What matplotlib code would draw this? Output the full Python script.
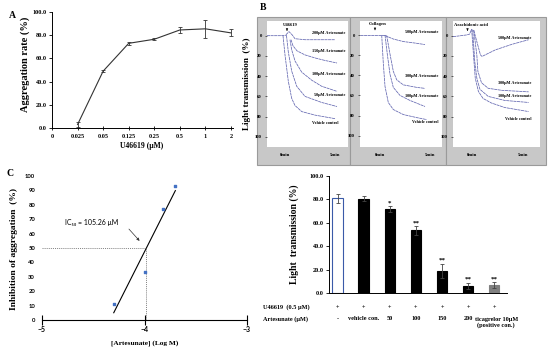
import numpy as np
import matplotlib
matplotlib.use("Agg")
import matplotlib.pyplot as plt
from matplotlib.patches import Rectangle

# ---------------- data ----------------
# Panel A
a_categories = ["0", "0.025", "0.05", "0.125", "0.25", "0.5", "1", "2"]
a_values = [3.0, 49.0, 73.0, 76.5, 84.5, 85.5, 82.0]      # for 0.025 .. 2
a_errors = [2.0, 1.0, 1.5, 1.0, 2.5, 8.0, 3.0]

# Panel B traces (time in min, light transmission %)
b1_t_base = [-1.8, -0.5, 0.2]
b1_y_base = [0.0, 0.0, -0.5]
b1_t_veh = [-0.2, 0.0, 0.33, 0.67, 1.0, 1.67, 3.0, 5.0]
b1_y_veh = [0.0, 19.0, 45.0, 62.0, 69.0, 75.0, 78.5, 82.0]
b1_t_50 = [0.15, 0.33, 0.67, 1.17, 2.0, 3.67, 5.2]
b1_y_50 = [0.0, 16.0, 35.0, 50.0, 60.0, 66.0, 70.0]
b1_t_100 = [0.5, 0.67, 1.0, 1.67, 2.67, 3.67, 5.2]
b1_y_100 = [4.0, 14.0, 25.0, 36.0, 44.0, 50.0, 55.0]
b1_t_150 = [0.6, 0.8, 1.2, 2.0, 3.0, 4.0, 5.2]
b1_y_150 = [4.0, 10.0, 15.0, 19.0, 22.0, 24.5, 27.0]
b1_t_200 = [0.1, 0.4, 0.7, 1.0, 2.0, 3.5, 5.0]
b1_y_200 = [-1.0, -4.0, -1.0, 3.0, 4.0, 4.0, 4.0]

b2_t_base = [-2.0, -0.5, 0.5]
b2_y_base = [0.0, 0.0, 0.0]
b2_t_veh = [0.17, 0.33, 0.5, 0.83, 1.33, 2.33, 3.67, 4.67]
b2_y_veh = [0.0, 28.0, 51.0, 67.0, 74.0, 79.0, 82.0, 84.0]
b2_t_100 = [0.5, 0.73, 1.0, 1.33, 2.0, 3.0, 4.5]
b2_y_100 = [0.0, 19.0, 39.0, 52.0, 60.0, 65.0, 71.0]
b2_t_300 = [0.67, 1.0, 1.33, 1.67, 2.33, 3.67, 4.5]
b2_y_300 = [0.5, 19.0, 36.0, 44.5, 49.5, 52.0, 53.0]
b2_t_500 = [0.5, 1.33, 2.33, 3.5, 4.5]
b2_y_500 = [0.5, 4.0, 6.5, 8.0, 9.5]

b3_t_base = [-1.8, -0.5, -0.2, 0.0]
b3_y_base = [1.0, -0.7, -1.5, -6.5]
b3_t_veh = [0.0, 0.2, 0.35, 0.65, 1.1, 1.9, 3.2, 5.5]
b3_y_veh = [-6.5, 22.0, 42.0, 55.0, 62.0, 66.5, 71.0, 75.0]
b3_t_100 = [0.1, 0.3, 0.5, 0.8, 1.6, 3.2, 5.5]
b3_y_100 = [-6.0, 25.5, 42.0, 53.0, 60.0, 64.0, 66.0]
b3_t_300 = [0.2, 0.5, 0.6, 0.95, 1.6, 2.9, 5.5]
b3_y_300 = [-5.5, 19.0, 35.0, 46.5, 52.0, 54.0, 55.5]
b3_t_500 = [0.2, 0.85, 1.0, 2.3, 3.9, 5.5]
b3_y_500 = [-5.5, 19.0, 20.5, 14.0, 8.5, 4.0]

# Panel C
c_conc_logM = [-4.30, -4.00, -3.824, -3.699]
c_inhibition = [11.0, 33.5, 77.0, 93.0]
c_ic50_label = "IC₅₀ = 105.26 μM"

# Panel D
d_values = [81.0, 80.5, 71.5, 53.5, 19.0, 6.0, 6.5]
d_errors = [4.0, 2.0, 2.5, 3.5, 6.0, 2.5, 2.5]
d_stars = ["", "", "*", "**", "**", "**", "**"]
d_row1 = ["+", "+", "+", "+", "+", "+", "+"]
d_row2 = ["-", "vehicle con.", "50", "100", "150", "200", "ticagrelor 10μM\n(positive con.)"]

# ---------------- figure ----------------
W, H = 550, 349
fig = plt.figure(figsize=(W / 100, H / 100), dpi=100)
fig.patch.set_facecolor("white")
SERIF = "Liberation Serif"
SANS = ["Lato", "DejaVu Sans"]


def rect(l, t, r, b):
    return [l / W, 1 - b / H, (r - l) / W, (b - t) / H]


def P(x, y):
    return x / W, 1 - y / H


# ---------------- Panel A ----------------
ax = fig.add_axes(rect(52, 12, 233, 128))
xa = np.arange(1, len(a_categories))
ax.errorbar(xa, a_values, yerr=a_errors, color="#333333", lw=0.8,
            elinewidth=0.6, capsize=1.5, capthick=0.6)
ax.set_xlim(0, 7.08)
ax.set_ylim(0, 100)
ax.set_xticks(np.arange(len(a_categories)))
ax.set_xticklabels(a_categories)
ax.set_yticks(np.arange(0, 101, 20))
ax.set_yticklabels([f"{v:.1f}" for v in range(0, 101, 20)])
for s in ["top", "right"]:
    ax.spines[s].set_visible(False)
for s in ["left", "bottom"]:
    ax.spines[s].set_linewidth(0.7)
ax.tick_params(axis="x", direction="inout", length=3, width=0.6, pad=3)
ax.tick_params(axis="y", direction="out", length=2, width=0.6, pad=2)
for lab in ax.get_xticklabels() + ax.get_yticklabels():
    lab.set_fontfamily(SERIF)
    lab.set_fontweight("bold")
    lab.set_fontsize(4.5)
fig.text(*P(25, 64), "Aggregation rate (%)", rotation=90, ha="center", va="center",
         fontfamily=SERIF, fontweight="bold", fontsize=7.5)
fig.text(*P(142, 146), "U46619 (μM)", ha="center", va="center",
         fontfamily=SERIF, fontweight="bold", fontsize=5.5)
fig.text(*P(12, 15), "A", ha="center", va="center",
         fontfamily=SERIF, fontweight="bold", fontsize=7)

# ---------------- Panel B ----------------
fig.text(*P(263, 8), "B", ha="center", va="center",
         fontfamily=SERIF, fontweight="bold", fontsize=7)
fig.text(*P(247, 84), "Light transmission  (%)", rotation=90, ha="center", va="center",
         fontfamily=SERIF, fontweight="bold", fontsize=6.6)
for (l, r) in [(257, 350), (350, 446), (446, 546)]:
    fig.patches.append(Rectangle((l / W, 1 - 165 / H), (r - l) / W, (165 - 17) / H,
                                 transform=fig.transFigure, facecolor="#c8c8c8",
                                 edgecolor="#9a9a9a", lw=0.8, zorder=-5))

trace_col = "#6266b0"
b_specs = [
    (rect(267, 21, 348, 147), (-1.8, 6.3), (110, -14.5),
     [(b1_t_base, b1_y_base), (b1_t_200, b1_y_200), (b1_t_150, b1_y_150),
      (b1_t_100, b1_y_100), (b1_t_50, b1_y_50), (b1_t_veh, b1_y_veh)],
     [(6.0, -3, "200μM Artesunate"), (6.0, 15, "150μM Artesunate"),
      (6.0, 38, "100μM Artesunate"), (6.0, 58.5, "50μM Artesunate"),
      (5.3, 86, "Vehicle control")],
     ("U46619", 0.2)),
    (rect(360, 21, 442, 147), (-2.0, 6.2), (111.2, -13.9),
     [(b2_t_base, b2_y_base), (b2_t_500, b2_y_500), (b2_t_300, b2_y_300),
      (b2_t_100, b2_y_100), (b2_t_veh, b2_y_veh)],
     [(5.85, -2.7, "500μM Artesunate"), (5.85, 40.7, "300μM Artesunate"),
      (5.85, 60.6, "100μM Artesunate"), (5.85, 86.7, "Vehicle control")],
     ("Collagen", -0.5)),
    (rect(453, 21, 540, 147), (-1.8, 6.6), (110, -14.5),
     [(b3_t_base, b3_y_base), (b3_t_500, b3_y_500), (b3_t_300, b3_y_300),
      (b3_t_100, b3_y_100), (b3_t_veh, b3_y_veh)],
     [(5.8, 2, "500μM Artesunate"), (5.8, 47, "300μM Artesunate"),
      (5.8, 59.7, "100μM Artesunate"), (5.8, 82, "Vehicle control")],
     ("Arachidonic acid", -0.4)),
]
for r_, xl, yl, curves, labels, (agon, ax_x) in b_specs:
    axb = fig.add_axes(r_)
    axb.set_facecolor("white")
    for sp in axb.spines.values():
        sp.set_visible(False)
    for t, y in curves:
        axb.plot(t, y, color=trace_col, lw=0.55, ls=(0, (4, 0.7)))
    for x, y, txt in labels:
        axb.text(x, y, txt, ha="right", va="center", fontfamily=SERIF,
                 fontweight="bold", fontsize=3.1)
    axb.annotate("", xy=(ax_x, -2), xytext=(ax_x, -8),
                 arrowprops=dict(arrowstyle="-|>", lw=0.4, color="black",
                                 mutation_scale=3))
    axb.text(ax_x + 0.3, -10.5, agon, ha="center", va="center", fontfamily=SERIF,
             fontweight="bold", fontsize=3.3)
    axb.set_xlim(*xl)
    axb.set_ylim(*yl)
    axb.set_yticks(np.arange(0, 101, 20))
    axb.set_xticks([0, 5])
    axb.set_xticklabels(["0min", "5min"])
    axb.tick_params(axis="y", length=1.2, width=0.4, pad=2.5)
    axb.tick_params(axis="x", length=0, pad=4)
    for lab in axb.get_xticklabels() + axb.get_yticklabels():
        lab.set_fontfamily(SERIF)
        lab.set_fontweight("bold")
        lab.set_fontsize(3.4)

# ---------------- Panel C ----------------
axc = fig.add_axes(rect(42, 176, 247, 320))
axc.scatter(c_conc_logM, c_inhibition, marker="s", s=1.8, color="#4472c4", zorder=3)
m, b = np.polyfit(c_conc_logM, c_inhibition, 1)
xs = np.array([min(c_conc_logM), max(c_conc_logM)])
axc.plot(xs, m * xs + b, color="black", lw=0.8)
x50 = (50 - b) / m
axc.plot([-5, x50], [50, 50], color="#555555", lw=0.5, ls=(0, (1.5, 1.5)))
axc.plot([x50, x50], [0, 50], color="#555555", lw=0.5, ls=(0, (1.5, 1.5)))
axc.text(-4.78, 67.4, c_ic50_label, ha="left", va="center",
         fontfamily=SANS, fontsize=5)
axc.annotate("", xy=(-4.03, 53.5), xytext=(-4.17, 64.6),
             arrowprops=dict(arrowstyle="-|>", lw=0.5, color="#333333",
                             mutation_scale=4))
axc.set_xlim(-5, -3)
axc.set_ylim(0, 100)
axc.set_xticks([-5, -4, -3])
axc.set_yticks(np.arange(0, 101, 10))
for s in ["top", "right", "left"]:
    axc.spines[s].set_visible(False)
axc.spines["bottom"].set_linewidth(0.8)
axc.tick_params(axis="x", direction="inout", length=7, width=0.8, pad=1)
axc.tick_params(axis="y", length=0, pad=5)
for lab in axc.get_yticklabels():
    lab.set_fontfamily(SANS)
    lab.set_fontweight("bold")
    lab.set_fontsize(4.2)
for lab in axc.get_xticklabels():
    lab.set_fontfamily(SANS)
    lab.set_fontweight("bold")
    lab.set_fontsize(5)
fig.text(*P(14, 249), "Inhibition of aggregation  (%)", rotation=90, ha="center",
         va="center", fontfamily=SERIF, fontweight="bold", fontsize=6.8)
fig.text(*P(145, 343), "[Artesunate] (Log M)", ha="center", va="center",
         fontfamily=SERIF, fontweight="bold", fontsize=5.3)
fig.text(*P(10, 174), "C", ha="center", va="center",
         fontfamily=SERIF, fontweight="bold", fontsize=7)

# ---------------- Panel D ----------------
axd = fig.add_axes(rect(329, 176, 507, 293))
xd = np.arange(len(d_values))
colors = ["white", "black", "black", "black", "black", "black", "#808080"]
edges = ["#3a5aa8", "black", "black", "black", "black", "black", "#808080"]
axd.bar(xd, d_values, width=0.4, color=colors, edgecolor=edges, linewidth=0.8)
axd.errorbar(xd, d_values, yerr=d_errors, fmt="none", ecolor="#444444",
             elinewidth=0.6, capsize=1.3, capthick=0.6)
for i, st in enumerate(d_stars):
    if st:
        axd.text(xd[i], d_values[i] + d_errors[i] + 1.0, st, ha="center", va="bottom",
                 fontfamily=SERIF, fontweight="bold", fontsize=5)
axd.set_xlim(-0.33, 6.49)
axd.set_ylim(0, 100)
axd.set_yticks(np.arange(0, 101, 20))
axd.set_yticklabels([f"{v:.1f}" for v in range(0, 101, 20)])
axd.set_xticks([])
for s in ["top", "right"]:
    axd.spines[s].set_visible(False)
for s in ["left", "bottom"]:
    axd.spines[s].set_linewidth(0.7)
axd.tick_params(axis="y", length=2, width=0.6, pad=2)
for lab in axd.get_yticklabels():
    lab.set_fontfamily(SERIF)
    lab.set_fontweight("bold")
    lab.set_fontsize(4.5)
xt = axd.get_xaxis_transform()
for i in xd:
    axd.text(i, -0.12, d_row1[i], transform=xt, ha="center", va="center",
             fontfamily=SERIF, fontweight="bold", fontsize=4.5)
    if i != 6:
        axd.text(i, -0.222, d_row2[i], transform=xt, ha="center", va="center",
                 fontfamily=SERIF, fontweight="bold", fontsize=4.5)
axd.text(6.08, -0.255, d_row2[6], transform=xt, ha="center", va="center",
         fontfamily=SERIF, fontweight="bold", fontsize=4.5, linespacing=1.05)
fig.text(*P(263, 307), "U46619  (0.5 μM)", ha="left", va="center",
         fontfamily=SERIF, fontweight="bold", fontsize=4.5)
fig.text(*P(263, 319), "Artesunate (μM)", ha="left", va="center",
         fontfamily=SERIF, fontweight="bold", fontsize=4.5)
fig.text(*P(294, 234), "Light  transmission (%)", rotation=90, ha="center",
         va="center", fontfamily=SERIF, fontweight="bold", fontsize=7)

fig.savefig("out.png", dpi=100, facecolor="white")
